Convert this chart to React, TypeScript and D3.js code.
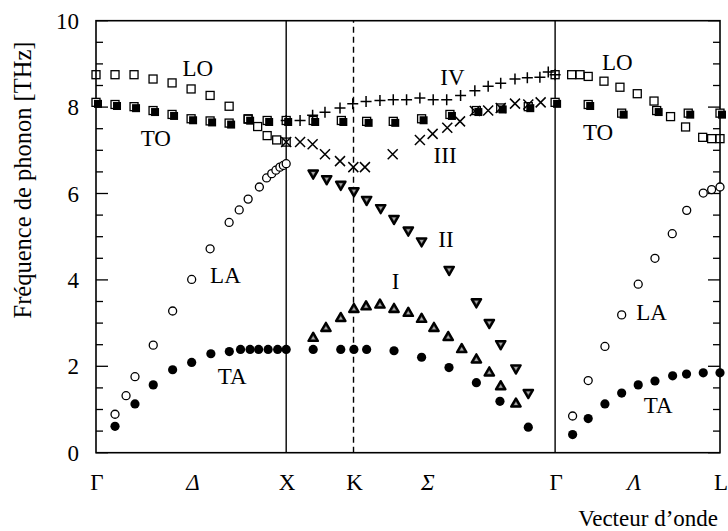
import React from "react";
import * as d3 from "d3";

// ---- path coordinates (units of 2π/a): Γ–X = 1, X–K = √2/4, K–Γ = 3√2/4, Γ–L = √3/2
const pathPoints = [0, 1, 1.354, 2.414, 3.281];
const pointLabels = ["Γ", "X", "K", "Γ", "L"];
const segLabels = ["Δ", "Σ", "Λ"];
const segLabelQ = [0.51, 1.745, 2.83];
const yTicks = [0, 2, 4, 6, 8, 10];

// ---- data series (q, frequency THz)
const loQ = [0, 0.1, 0.2, 0.3, 0.4, 0.5, 0.6, 0.7, 0.8, 0.85, 0.9, 0.95, 1.0,
  2.414, 2.501, 2.545, 2.588, 2.671, 2.755, 2.846, 2.934, 3.021, 3.1, 3.19, 3.237, 3.281];
const loF = [8.75, 8.75, 8.75, 8.65, 8.56, 8.42, 8.27, 8.02, 7.73, 7.55, 7.34, 7.24, 7.19,
  8.75, 8.75, 8.75, 8.71, 8.6, 8.46, 8.31, 8.14, 7.78, 7.54, 7.3, 7.27, 7.27];

const toQ = [0, 0.1, 0.2, 0.3, 0.4, 0.5, 0.6, 0.7, 0.8, 0.9, 1.0,
  1.142, 1.29, 1.423, 1.563, 1.712, 1.861, 2.0, 2.128, 2.273, 2.414,
  2.588, 2.764, 2.948, 3.114, 3.281];
const toF = [8.11, 8.06, 8.01, 7.92, 7.83, 7.73, 7.68, 7.63, 7.72, 7.69, 7.69,
  7.69, 7.69, 7.67, 7.67, 7.73, 7.83, 7.92, 7.98, 8.01, 8.11,
  8.06, 7.86, 7.92, 7.86, 7.86];

const laQ = [0.1, 0.158, 0.205, 0.301, 0.403, 0.503, 0.6, 0.7, 0.753, 0.8, 0.859, 0.897, 0.924, 0.946, 0.967, 0.985, 1.0,
  2.506, 2.588, 2.676, 2.764, 2.851, 2.939, 3.03, 3.106, 3.193, 3.237, 3.281];
const laF = [0.89, 1.32, 1.76, 2.49, 3.28, 4.01, 4.72, 5.33, 5.62, 5.87, 6.15, 6.36, 6.46, 6.54, 6.61, 6.65, 6.69,
  0.85, 1.67, 2.46, 3.19, 3.9, 4.5, 5.07, 5.61, 6.01, 6.09, 6.15];

const taQ = [0.1, 0.205, 0.301, 0.403, 0.503, 0.604, 0.701, 0.76, 0.81, 0.855, 0.905, 0.955, 1.0,
  1.142, 1.287, 1.356, 1.423, 1.567, 1.712, 1.856, 2.0, 2.124, 2.273,
  2.506, 2.588, 2.676, 2.764, 2.851, 2.939, 3.032, 3.105, 3.193, 3.281];
const taF = [0.61, 1.13, 1.57, 1.92, 2.09, 2.29, 2.34, 2.39, 2.39, 2.39, 2.39, 2.39, 2.39,
  2.39, 2.39, 2.39, 2.39, 2.36, 2.21, 1.97, 1.62, 1.19, 0.59,
  0.42, 0.79, 1.13, 1.38, 1.57, 1.66, 1.78, 1.82, 1.85, 1.85];

const iQ = [1.142, 1.209, 1.287, 1.356, 1.42, 1.493, 1.567, 1.642, 1.712, 1.777, 1.852, 1.923, 2.0, 2.068, 2.128, 2.208];
const iF = [2.65, 2.88, 3.11, 3.32, 3.38, 3.42, 3.32, 3.23, 3.09, 2.88, 2.67, 2.39, 2.15, 1.85, 1.53, 1.13];

const iiQ = [1.142, 1.213, 1.287, 1.356, 1.423, 1.497, 1.567, 1.642, 1.712, 1.857, 2.0, 2.068, 2.128, 2.208, 2.273];
const iiF = [6.47, 6.34, 6.21, 6.06, 5.86, 5.67, 5.42, 5.15, 4.9, 4.24, 3.49, 3.01, 2.52, 1.96, 1.39];

const iiiQ = [1.0, 1.073, 1.139, 1.204, 1.283, 1.353, 1.414, 1.56, 1.703, 1.77, 1.847, 1.914, 1.992, 2.062, 2.128, 2.203, 2.273, 2.338];
const iiiF = [7.19, 7.19, 7.14, 6.91, 6.75, 6.61, 6.61, 6.91, 7.24, 7.38, 7.52, 7.67, 7.91, 7.92, 7.98, 8.08, 8.06, 8.11];

const ivQ = [1.0, 1.073, 1.139, 1.204, 1.283, 1.35, 1.42, 1.493, 1.563, 1.633, 1.703, 1.773, 1.844, 1.917, 1.992, 2.062, 2.128, 2.203, 2.268, 2.334, 2.378, 2.414];
const ivF = [7.69, 7.69, 7.81, 7.88, 7.98, 8.08, 8.13, 8.15, 8.17, 8.17, 8.21, 8.17, 8.17, 8.27, 8.38, 8.48, 8.55, 8.65, 8.68, 8.69, 8.81, 8.75];

// branch labels: text, q, f (baseline position)
const branchText = ["LO", "TO", "LA", "TA", "IV", "III", "II", "I", "LO", "TO", "LA", "TA"];
const branchQ = [0.455, 0.235, 0.6, 0.64, 1.81, 1.775, 1.8, 1.555, 2.66, 2.56, 2.84, 2.88];
const branchF = [8.73, 7.09, 3.93, 1.6, 8.52, 6.7, 4.76, 3.8, 8.87, 7.25, 3.07, 0.93];

const W = 728, H = 531;
const FONT = "'Liberation Serif', 'Times New Roman', serif";
const FS = 23;

function zip(q: number[], f: number[]) {
  return q.map((v, i) => ({ q: v, f: f[i] }));
}

export default function App() {
  const x = d3.scaleLinear().domain([0, 3.281]).range([96, 720]);
  const y = d3.scaleLinear().domain([0, 10]).range([452.7, 20.7]);

  const minor = d3.range(0, 10.01, 0.5);
  const sq = 8;
  const r = 4;
  const tri = d3.symbol().type(d3.symbolTriangle).size(40)() as string;
  const triIn = d3.symbol().type(d3.symbolTriangle).size(6)() as string;

  return (
    <svg width={W} height={H} style={{ position: "absolute", left: 0, top: 0, background: "#fff" }}
      fontFamily={FONT}>
      <rect x={0} y={0} width={W} height={H} fill="#fff" />
      {/* frame */}
      <rect x={x(0)} y={y(10)} width={x(3.281) - x(0)} height={y(0) - y(10)} fill="none" stroke="#000" strokeWidth={1.6} />
      {/* y ticks */}
      {minor.map((v, i) => {
        const major = Math.abs(v - Math.round(v / 2) * 2) < 1e-6;
        const len = major ? 12 : 7;
        return (
          <g key={"t" + i}>
            <line x1={x(0)} x2={x(0) + len} y1={y(v)} y2={y(v)} stroke="#000" strokeWidth={1.3} />
            <line x1={x(3.281)} x2={x(3.281) - len} y1={y(v)} y2={y(v)} stroke="#000" strokeWidth={1.3} />
          </g>
        );
      })}
      {yTicks.map((v) => (
        <text key={"yl" + v} x={79} y={y(v)} dy="0.35em" textAnchor="end" fontSize={FS} fill="#000">{v}</text>
      ))}
      {/* vertical symmetry lines */}
      <line x1={x(pathPoints[1])} x2={x(pathPoints[1])} y1={y(0)} y2={y(10)} stroke="#000" strokeWidth={1.4} />
      <line x1={x(pathPoints[2])} x2={x(pathPoints[2])} y1={y(0)} y2={y(10)} stroke="#000" strokeWidth={1.4} strokeDasharray="6,4" />
      <line x1={x(pathPoints[3])} x2={x(pathPoints[3])} y1={y(0)} y2={y(10)} stroke="#000" strokeWidth={1.4} />

      {/* x labels */}
      {pathPoints.map((p, i) => (
        <text key={"pl" + i} x={i === 4 ? 728 : x(p) + 1} y={490} textAnchor={i === 4 ? "end" : "middle"} fontSize={FS} fill="#000">{pointLabels[i]}</text>
      ))}
      {segLabels.map((s, i) => (
        <text key={"sl" + i} x={x(segLabelQ[i])} y={490} textAnchor="middle" fontSize={FS} fontStyle="italic" fill="#000">{s}</text>
      ))}
      <text x={718} y={526} textAnchor="end" fontSize={FS} fill="#000">Vecteur d’onde</text>
      <text transform={`translate(31,180) rotate(-90)`} textAnchor="middle" fontSize={24.5} fill="#000">Fréquence de phonon [THz]</text>

      {/* TA filled circles */}
      {zip(taQ, taF).map((d, i) => (
        <circle key={"ta" + i} cx={x(d.q)} cy={y(d.f)} r={r + 0.6} fill="#000" />
      ))}
      {/* LA open circles */}
      {zip(laQ, laF).map((d, i) => (
        <circle key={"la" + i} cx={x(d.q)} cy={y(d.f)} r={r} fill="#fff" stroke="#000" strokeWidth={1.3} />
      ))}
      {/* TO filled squares (double) */}
      {zip(toQ, toF).map((d, i) => (
        <g key={"to" + i}>
          <rect x={x(d.q) - sq / 2} y={y(d.f) - sq / 2} width={sq} height={sq} fill="#fff" stroke="#000" strokeWidth={1.3} />
          <rect x={x(d.q) - sq / 2 + 2} y={y(d.f) - sq / 2 + 1.5} width={sq} height={sq} fill="#000" />
        </g>
      ))}
      {/* LO open squares */}
      {zip(loQ, loF).map((d, i) => (
        <rect key={"lo" + i} x={x(d.q) - sq / 2} y={y(d.f) - sq / 2} width={sq} height={sq} fill="none" stroke="#000" strokeWidth={1.3} />
      ))}
      {/* III crosses */}
      {zip(iiiQ, iiiF).map((d, i) => {
        const cx = x(d.q), cy = y(d.f), s = 5;
        return (
          <path key={"iii" + i} d={`M${cx - s},${cy - s}L${cx + s},${cy + s}M${cx - s},${cy + s}L${cx + s},${cy - s}`} stroke="#000" strokeWidth={1.5} fill="none" />
        );
      })}
      {/* IV plus */}
      {zip(ivQ, ivF).map((d, i) => {
        const cx = x(d.q), cy = y(d.f), s = 5.5;
        return (
          <path key={"iv" + i} d={`M${cx - s},${cy}L${cx + s},${cy}M${cx},${cy - s}L${cx},${cy + s}`} stroke="#000" strokeWidth={1.5} fill="none" />
        );
      })}
      {/* I up triangles */}
      {zip(iQ, iF).map((d, i) => (
        <g key={"i" + i} transform={`translate(${x(d.q)},${y(d.f)})`}>
          <path d={tri} fill="#333" stroke="#000" strokeWidth={2.2} strokeLinejoin="round" />
          <path d={triIn} fill="#aaa" />
        </g>
      ))}
      {/* II down triangles */}
      {zip(iiQ, iiF).map((d, i) => (
        <g key={"ii" + i} transform={`translate(${x(d.q)},${y(d.f)}) rotate(180)`}>
          <path d={tri} fill="#333" stroke="#000" strokeWidth={2.2} strokeLinejoin="round" />
          <path d={triIn} fill="#aaa" />
        </g>
      ))}

      {/* branch labels */}
      {branchText.map((t, i) => (
        <text key={"b" + i} x={x(branchQ[i])} y={y(branchF[i])} textAnchor="start" fontSize={FS} fill="#000">{t}</text>
      ))}
    </svg>
  );
}
